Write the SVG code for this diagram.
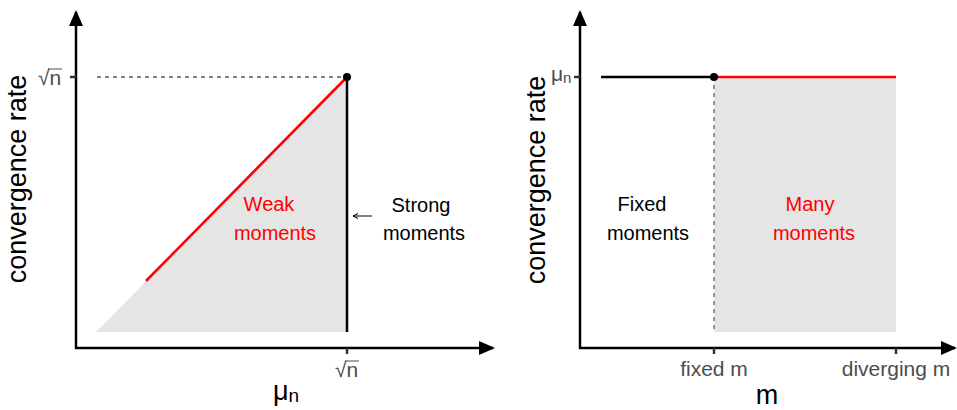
<svg xmlns="http://www.w3.org/2000/svg" width="957" height="410" viewBox="0 0 957 410">
<defs>
<marker id="sa" markerWidth="6" markerHeight="6" refX="5" refY="3" orient="auto" markerUnits="userSpaceOnUse">
<path d="M0,0.5 L5,3 L0,5.5" fill="none" stroke="#000" stroke-width="1"/>
</marker>
<marker id="big" markerWidth="16" markerHeight="14" refX="14" refY="7" orient="auto" markerUnits="userSpaceOnUse">
<path d="M0,0 L16,7 L0,14 Z" fill="#000"/>
</marker>
</defs>
<style>
.ax{stroke:#000;stroke-width:2.5;fill:none}
.tick{stroke:#333;stroke-width:2.5}
.tl{font-family:"Liberation Sans",Arial,sans-serif;font-size:21px;fill:#4d4d4d}
.ttl{font-family:"Liberation Sans",Arial,sans-serif;font-size:27px;fill:#000}
.lab{font-family:"Liberation Sans",Arial,sans-serif;font-size:20px;text-anchor:middle}
.red{fill:#ff0000}
.blk{fill:#000}
.vin{stroke:#4d4d4d;stroke-width:1}
</style>
<rect width="957" height="410" fill="#fff"/>

<g id="left-panel">
<polygon points="96,332 347,332 347,77" fill="#e5e5e5"/>
<line x1="97" y1="77" x2="347" y2="77" stroke="#000" stroke-width="1" stroke-dasharray="4,4"/>
<line x1="146" y1="281" x2="347" y2="77" stroke="#ff0000" stroke-width="2.5"/>
<line x1="347" y1="77" x2="347" y2="332" stroke="#000" stroke-width="2.5"/>
<circle cx="347" cy="77" r="4" fill="#000"/>
</g>
<g id="left-axes">
<line class="ax" x1="76" y1="349" x2="76" y2="12" marker-end="url(#big)"/>
<line class="ax" x1="75" y1="348" x2="493" y2="348" marker-end="url(#big)"/>
<line class="tick" x1="70" y1="77" x2="76" y2="77"/>
<line class="tick" x1="347" y1="348" x2="347" y2="354"/>
<text class="tl" x="38" y="85">√n</text>
<line class="vin" x1="48" y1="69" x2="62" y2="69"/>
<text class="tl" x="335" y="377">√n</text>
<line class="vin" x1="345" y1="361" x2="359" y2="361"/>
<text class="ttl" x="273" y="400" font-size="25">μ<tspan font-size="19" dy="2">n</tspan></text>
<text class="ttl" transform="translate(26,179) rotate(-90)" text-anchor="middle">convergence rate</text>
</g>
<g id="weak-moments">
<text class="lab red" x="269" y="211">Weak</text>
<text class="lab red" x="275" y="240">moments</text>
</g>
<g id="strong-moments">
<text class="lab blk" x="421" y="212">Strong</text>
<text class="lab blk" x="424" y="240">moments</text>
</g>
<g id="connectors">
<line x1="372" y1="216" x2="353" y2="216" stroke="#000" stroke-width="1" marker-end="url(#sa)"/>
</g>

<g id="right-panel">
<rect x="714" y="77" width="182" height="255" fill="#e5e5e5"/>
<line x1="714" y1="77" x2="714" y2="332" stroke="#333" stroke-width="1" stroke-dasharray="4,4"/>
<line x1="601" y1="77" x2="714" y2="77" stroke="#000" stroke-width="2.5"/>
<line x1="714" y1="77" x2="896" y2="77" stroke="#ff0000" stroke-width="2.5"/>
<circle cx="714" cy="77" r="4" fill="#000"/>
</g>
<g id="right-axes">
<line class="ax" x1="580" y1="349" x2="580" y2="12" marker-end="url(#big)"/>
<line class="ax" x1="579" y1="348" x2="955" y2="348" marker-end="url(#big)"/>
<line class="tick" x1="574" y1="77" x2="580" y2="77"/>
<line class="tick" x1="714" y1="348" x2="714" y2="354"/>
<line class="tick" x1="896" y1="348" x2="896" y2="354"/>
<text class="tl" x="551" y="81" font-size="19">μ<tspan font-size="15" dy="2">n</tspan></text>
<text class="tl" x="714" y="376" text-anchor="middle">fixed m</text>
<text class="tl" x="896" y="376" text-anchor="middle">diverging m</text>
<text class="ttl" x="767" y="404" text-anchor="middle">m</text>
<text class="ttl" transform="translate(545,180) rotate(-90)" text-anchor="middle">convergence rate</text>
</g>
<g id="fixed-moments">
<text class="lab blk" x="642" y="211">Fixed</text>
<text class="lab blk" x="648" y="240">moments</text>
</g>
<g id="many-moments">
<text class="lab red" x="810" y="211">Many</text>
<text class="lab red" x="814" y="240">moments</text>
</g>
</svg>
